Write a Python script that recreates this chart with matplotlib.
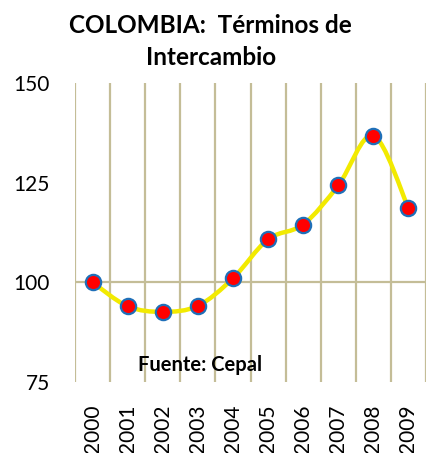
import numpy as np
import matplotlib
matplotlib.use("Agg")
import matplotlib.pyplot as plt
from matplotlib.path import Path
from matplotlib.patches import PathPatch

plt.rcParams['font.family'] = ['Lato', 'DejaVu Sans']

# Data
years = ['2000', '2001', '2002', '2003', '2004', '2005', '2006', '2007', '2008', '2009']
values = [100.0, 94.0, 92.6, 94.1, 101.0, 110.8, 114.5, 124.3, 136.8, 118.6]
y_ticks = [75, 100, 125, 150]

title = 'COLOMBIA:  Términos de\nIntercambio'
source = 'Fuente: Cepal'

grid_color = '#C4BD97'
line_color = '#F2EA00'
marker_face = '#FF0000'
marker_edge = '#1F6FB8'

fig = plt.figure(figsize=(4.26, 4.53), dpi=100)
ax = fig.add_axes([75 / 426, 71 / 453, 351 / 426, 299 / 453])

x = np.arange(len(years))
y = np.array(values)

# smoothed line (Excel-style bezier through the points)
verts = [(x[0], y[0])]
codes = [Path.MOVETO]
n = len(x)
for i in range(n - 1):
    p0 = np.array([x[max(i - 1, 0)], y[max(i - 1, 0)]])
    p1 = np.array([x[i], y[i]])
    p2 = np.array([x[i + 1], y[i + 1]])
    p3 = np.array([x[min(i + 2, n - 1)], y[min(i + 2, n - 1)]])
    c1 = p1 + (p2 - p0) / 6.0
    c2 = p2 - (p3 - p1) / 6.0
    verts += [tuple(c1), tuple(c2), tuple(p2)]
    codes += [Path.CURVE4] * 3
ax.add_patch(PathPatch(Path(verts, codes), facecolor='none',
                       edgecolor=line_color, lw=3.2, zorder=3, capstyle='round'))

ax.plot(x, y, linestyle='none', marker='o', markersize=11,
        markerfacecolor=marker_face, markeredgecolor=marker_edge,
        markeredgewidth=1.6, zorder=4)

ax.axhline(100, color=grid_color, lw=1.6, zorder=1)

ax.set_xlim(-0.5, 9.41)
ax.set_ylim(75, 150)
ax.set_xticks(x)
ax.set_xticklabels(years, rotation=90, fontsize=15)
ax.set_xticks(np.arange(-0.5, 10, 1.0), minor=True)
ax.grid(True, which='minor', axis='x', color=grid_color, lw=1.6, zorder=0)
ax.set_yticks(y_ticks)
ax.set_yticklabels([str(v) for v in y_ticks], fontsize=15)
ax.tick_params(axis='both', which='both', length=0)
ax.tick_params(axis='y', pad=18)
ax.tick_params(axis='x', pad=16)
for s in ax.spines.values():
    s.set_visible(False)

fig.text(0.495, 0.968, title, ha='center', va='top', fontsize=17.5,
         fontweight='bold', linespacing=1.45)
ax.text(3.05, 79.3, source, ha='center', va='center', fontsize=14.5,
        fontweight='bold')

fig.savefig('out.png', dpi=100)
